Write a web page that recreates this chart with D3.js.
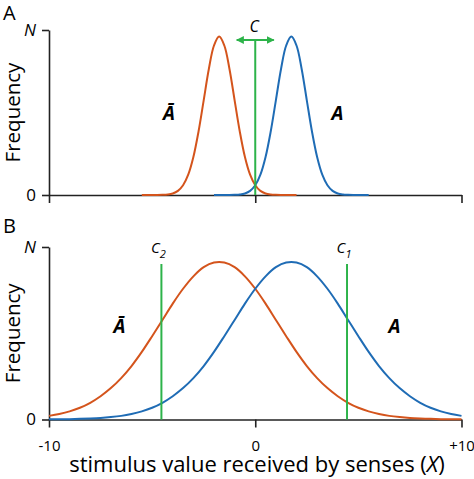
<!DOCTYPE html>
<meta charset="utf-8">
<style>
body { margin: 0; background: #fff; }
svg text { font-family: "Open Sans", sans-serif; fill: #000; }
.axis path, .axis line { stroke: #222; stroke-width: 1.6px; }
.axis text { font-family: "Open Sans", sans-serif; fill: #000; }
.curve { fill: none; stroke-width: 2px; }
.crit { stroke: #2db34a; stroke-width: 2px; }
</style>
<body>
<script src="https://d3js.org/d3.v7.min.js"></script>
<script>

// panel A: narrow distributions, x grid in steps of 0.25
var xAbarA = d3.range(-5.5, 2.001, 0.25);
var yAbarA = [0, 0, 0, 0, 0.001, 0.003, 0.009, 0.025, 0.059, 0.123, 0.230, 0.385, 0.574, 0.764, 0.906, 0.960,
              0.906, 0.764, 0.574, 0.385, 0.230, 0.123, 0.059, 0.025, 0.009, 0.003, 0.001, 0, 0, 0, 0];
var xA_A = d3.range(-2.0, 5.501, 0.25);
var yA_A = [0, 0, 0, 0, 0.001, 0.003, 0.009, 0.025, 0.059, 0.123, 0.230, 0.385, 0.574, 0.764, 0.906, 0.960,
            0.906, 0.764, 0.574, 0.385, 0.230, 0.123, 0.059, 0.025, 0.009, 0.003, 0.001, 0, 0, 0, 0];

// panel B: wide distributions, x grid in steps of 0.5
var xB = d3.range(-10, 10.001, 0.5);
var yAbarB = [0.021, 0.032, 0.047, 0.068, 0.097, 0.135, 0.182, 0.240, 0.310, 0.392, 0.483,
              0.577, 0.672, 0.758, 0.830, 0.883, 0.910, 0.910, 0.883, 0.830, 0.758,
              0.672, 0.577, 0.483, 0.392, 0.310, 0.240, 0.182, 0.135, 0.097, 0.068,
              0.047, 0.032, 0.021, 0.014, 0.009, 0.006, 0.004, 0.002, 0.001, 0.001];
var yA_B = [0.001, 0.001, 0.002, 0.004, 0.006, 0.009, 0.014, 0.021, 0.032, 0.047, 0.068,
            0.097, 0.135, 0.182, 0.240, 0.310, 0.392, 0.483, 0.577, 0.672, 0.758,
            0.830, 0.883, 0.910, 0.910, 0.883, 0.830, 0.758, 0.672, 0.577, 0.483,
            0.392, 0.310, 0.240, 0.182, 0.135, 0.097, 0.068, 0.047, 0.032, 0.021];

// criterion positions
var critA = [0];
var critB = [-4.55, 4.45];
var critBLabels = ["2", "1"];

var xTicks = [-10, 0, 10];
var xTickLabels = ["-10", "0", "+10"];
var yTicks = [0, 1];
var yTickLabels = ["0", "N"];

var orange = "#d4541c", blue = "#1f6cb5", green = "#2db34a";

var width = 474, height = 479;

var svg = d3.select("body").append("svg")
    .attr("width", width)
    .attr("height", height);

var defs = svg.append("defs");
defs.append("marker")
    .attr("id", "arr")
    .attr("viewBox", "0 0 10 10")
    .attr("refX", 9).attr("refY", 5)
    .attr("markerWidth", 4).attr("markerHeight", 4)
    .attr("orient", "auto-start-reverse")
  .append("path")
    .attr("d", "M0,0 L10,5 L0,10 Z")
    .attr("fill", green);

var x = d3.scaleLinear().domain([-10, 10]).range([49, 461.5]);
var yA = d3.scaleLinear().domain([0, 1]).range([195, 30]);
var yB = d3.scaleLinear().domain([0, 1]).range([419.5, 247]);

function drawAxes(y, showLabels) {
  svg.append("g")
      .attr("class", "axis")
      .attr("transform", "translate(0," + y(0) + ")")
      .call(d3.axisBottom(x)
          .tickValues(xTicks)
          .tickSize(8)
          .tickSizeOuter(0)
          .tickPadding(13)
          .tickFormat(function(d, i) { return showLabels ? xTickLabels[i] : ""; }))
      .selectAll("text")
      .style("font-size", "15px");

  var gy = svg.append("g")
      .attr("class", "axis")
      .attr("transform", "translate(" + x(-10) + ",0)")
      .call(d3.axisLeft(y)
          .tickValues(yTicks)
          .tickSize(7)
          .tickSizeOuter(0)
          .tickPadding(6)
          .tickFormat(function(d, i) { return yTickLabels[i]; }));
  gy.selectAll("text")
      .style("font-size", "17px")
      .style("font-style", function(d) { return d === 1 ? "italic" : "normal"; });
}

function drawCurve(xs, ys, y, color) {
  var line = d3.line()
      .x(function(d) { return x(d[0]); })
      .y(function(d) { return y(Math.max(0, d[1])); })
      .curve(d3.curveCatmullRom);
  svg.append("path")
      .datum(d3.zip(xs, ys))
      .attr("class", "curve")
      .attr("stroke", color)
      .attr("d", line);
}

function yTitle(y) {
  svg.append("text")
      .attr("transform", "translate(20," + (y(0) + y(1)) / 2 + ") rotate(-90)")
      .attr("text-anchor", "middle")
      .style("font-size", "20.5px")
      .text("Frequency");
}

function catLabels(y, xBar, xA, yPos) {
  svg.append("text")
      .attr("x", xBar).attr("y", yPos)
      .attr("text-anchor", "middle")
      .style("font-size", "19px").style("font-weight", "bold").style("font-style", "italic")
      .text("\u0100");
  svg.append("text")
      .attr("x", xA).attr("y", yPos)
      .attr("text-anchor", "middle")
      .style("font-size", "19px").style("font-weight", "bold").style("font-style", "italic")
      .text("A");
}

// ---- panel A
drawAxes(yA, false);
drawCurve(xAbarA, yAbarA, yA, orange);
drawCurve(xA_A, yA_A, yA, blue);

svg.selectAll(".critA")
  .data(critA)
  .enter().append("line")
    .attr("class", "crit")
    .attr("x1", function(d) { return x(d); })
    .attr("x2", function(d) { return x(d); })
    .attr("y1", 40)
    .attr("y2", yA(0));

// double headed arrow over C
svg.append("line")
    .attr("class", "crit")
    .attr("x1", x(critA[0] - 0.9)).attr("x2", x(critA[0] + 0.9))
    .attr("y1", 40).attr("y2", 40)
    .attr("marker-start", "url(#arr)")
    .attr("marker-end", "url(#arr)");

svg.append("text")
    .attr("x", x(critA[0]) - 1).attr("y", 32)
    .attr("text-anchor", "middle")
    .style("font-size", "16px").style("font-style", "italic")
    .text("C");

yTitle(yA);
catLabels(yA, 169, 337.5, 119.5);

svg.append("text")
    .attr("x", 3).attr("y", 20)
    .style("font-size", "20px")
    .text("A");

// ---- panel B
drawAxes(yB, true);
drawCurve(xB, yAbarB, yB, orange);
drawCurve(xB, yA_B, yB, blue);

svg.selectAll(".critB")
  .data(critB)
  .enter().append("line")
    .attr("class", "crit")
    .attr("x1", function(d) { return x(d); })
    .attr("x2", function(d) { return x(d); })
    .attr("y1", 264)
    .attr("y2", yB(0));

var cl = svg.selectAll(".critBLabel")
  .data(critB)
  .enter().append("text")
    .attr("x", function(d) { return x(d) - 3; })
    .attr("y", 253)
    .attr("text-anchor", "middle")
    .style("font-size", "15px").style("font-style", "italic");
cl.append("tspan").text("C");
cl.append("tspan")
    .attr("dy", 5)
    .style("font-size", "11px")
    .text(function(d, i) { return critBLabels[i]; });

yTitle(yB);
catLabels(yB, 119.5, 394.5, 333);

svg.append("text")
    .attr("x", 3).attr("y", 233)
    .style("font-size", "20px")
    .text("B");

// x axis title
var xt = svg.append("text")
    .attr("x", 257).attr("y", 472)
    .attr("text-anchor", "middle")
    .style("font-size", "22px");
xt.append("tspan").text("stimulus value received by senses (");
xt.append("tspan").style("font-style", "italic").text("X");
xt.append("tspan").text(")");

</script>
</body>
</html>
